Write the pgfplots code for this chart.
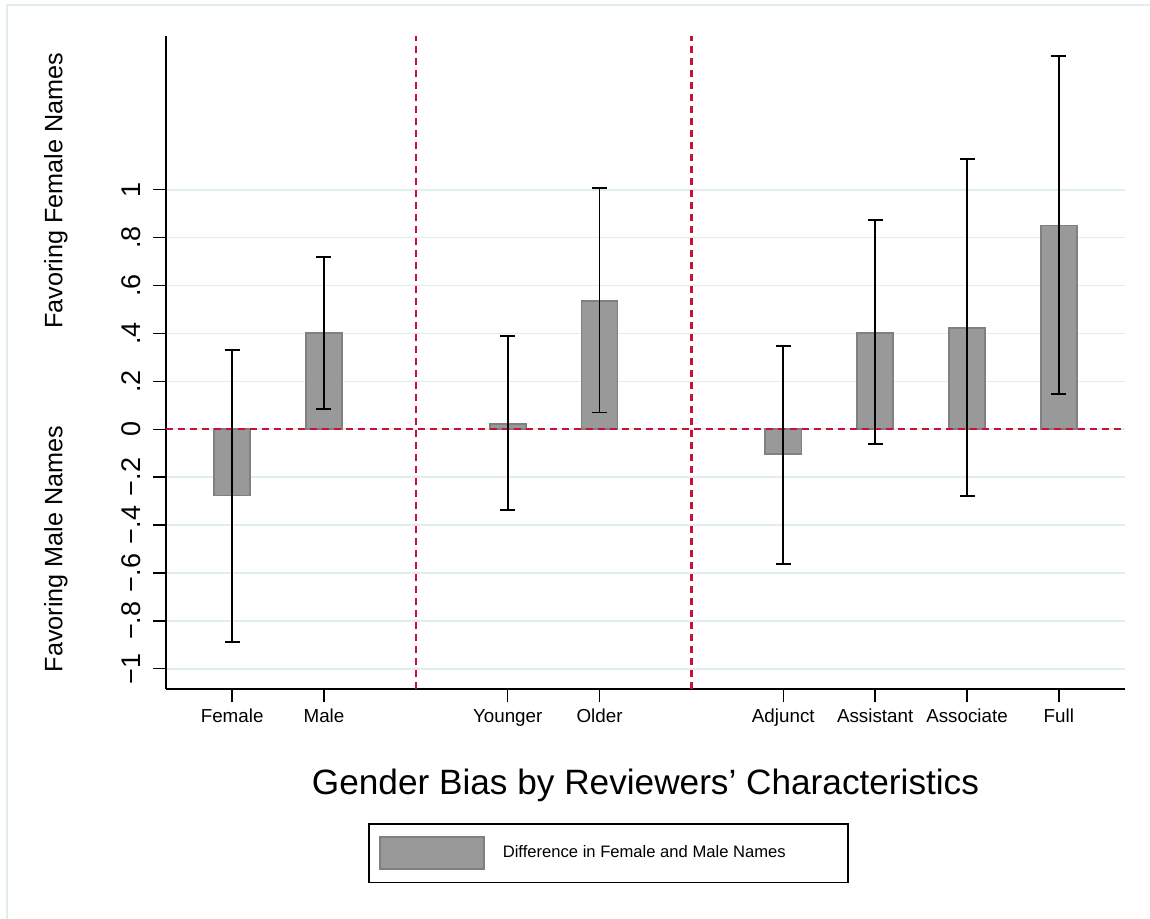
\documentclass[border=0pt]{standalone}
\usepackage{fontspec}
\setmainfont{Liberation Sans}
\usepackage{pgfplots}
\pgfplotsset{compat=1.18}
\usepackage{pgfplotstable}

\definecolor{barfill}{RGB}{153,153,153}
\definecolor{baredge}{RGB}{128,128,128}
\definecolor{gridc}{RGB}{226,237,240}
\definecolor{refred}{RGB}{200,16,58}

% x, estimate, upper and lower distance to the CI bounds
\pgfplotstableread{
x   y       ep     em
1   -0.277  0.608  0.611
2   0.401   0.318  0.316
4   0.023   0.367  0.360
5   0.536   0.471  0.466
7   -0.104  0.452  0.458
8   0.403   0.471  0.466
9   0.422   0.707  0.702
10  0.850   0.709  0.704
}\biasdata

\begin{document}
\begin{tikzpicture}
\begin{axis}[
    name=ax,
    width=479.5pt, height=326.65pt,
    scale only axis,
    xmin=0.28, xmax=10.72,
    ymin=-1.086, ymax=1.642,
    axis lines=left,
    axis line style={-, black, line width=0.8pt},
    xtick={1,2,4,5,7,8,9,10},
    xticklabels={Female,Male,Younger,Older,Adjunct,Assistant,Associate,Full},
    ytick={-1,-0.8,-0.6,-0.4,-0.2,0,0.2,0.4,0.6,0.8,1},
    yticklabels={−1,−.8,−.6,−.4,−.2,0,.2,.4,.6,.8,1},
    tick align=outside,
    major tick length=6.5pt,
    tick style={black, line width=0.7pt},
    xticklabel style={font=\fontsize{9.4}{11}\selectfont},
    yticklabel style={font=\fontsize{13.5}{16}\selectfont, xshift=-6pt, rotate=90, anchor=base},
    ymajorgrids,
    grid style={gridc, line width=0.8pt},
    legend style={
        at={(axis description cs:0.21064,-0.20465)}, anchor=north west,
        draw=black, line width=0.8pt,
        inner xsep=5.2pt, inner ysep=6.3pt,
        column sep=7pt,
        font=\fontsize{8.3}{10}\selectfont,
    },
    legend image code/.code={
        \draw[fill=barfill, draw=baredge, line width=0.8pt] (0pt,-8pt) rectangle (52pt,8pt);
    },
]
\addplot[ybar, bar width=0.392, fill=barfill, draw=baredge, line width=0.8pt]
    table[x=x, y=y] {\biasdata};
\addlegendentry{Difference in Female and Male Names\hspace*{24pt}}

% reference lines
\draw[refred, line width=1.2pt, dash pattern=on 3.6pt off 2.4pt]
    (axis cs:0.28,0) -- (axis cs:10.72,0);
\draw[refred, line width=1.2pt, dash pattern=on 3.6pt off 2.4pt]
    (axis cs:3,-1.086) -- (axis cs:3,1.642);
\draw[refred, line width=1.2pt, dash pattern=on 3.6pt off 2.4pt]
    (axis cs:6,-1.086) -- (axis cs:6,1.642);

\addplot[draw=none, mark=none, forget plot,
    error bars/.cd, y dir=both, y explicit,
    error bar style={black, line width=0.85pt},
    error mark options={black, line width=0.85pt, mark size=3.75pt, rotate=90}]
    table[x=x, y=y, y error plus=ep, y error minus=em] {\biasdata};
\end{axis}

\begin{scope}[shift={(ax.south west)}]
\node[rotate=90, anchor=base, font=\fontsize{12.6}{14}\selectfont] at (-51.85pt,249.15pt) {Favoring Female Names};
\node[rotate=90, anchor=base, font=\fontsize{12.6}{14}\selectfont] at (-51.85pt,70.15pt) {Favoring Male Names};
\node[anchor=base, font=\fontsize{17.6}{21}\selectfont] at (239.75pt,-52.5pt) {Gender Bias by Reviewers’ Characteristics};
\draw[gridc, line width=1pt] (-79.5pt,-130pt) -- (-79.5pt,342.15pt) -- (500pt,342.15pt);
\end{scope}

\pgfresetboundingbox
\path[use as bounding box] ([shift={(-83pt,-114.85pt)}]ax.south west) rectangle ([shift={(492pt,344.65pt)}]ax.south west);
\end{tikzpicture}
\end{document}
